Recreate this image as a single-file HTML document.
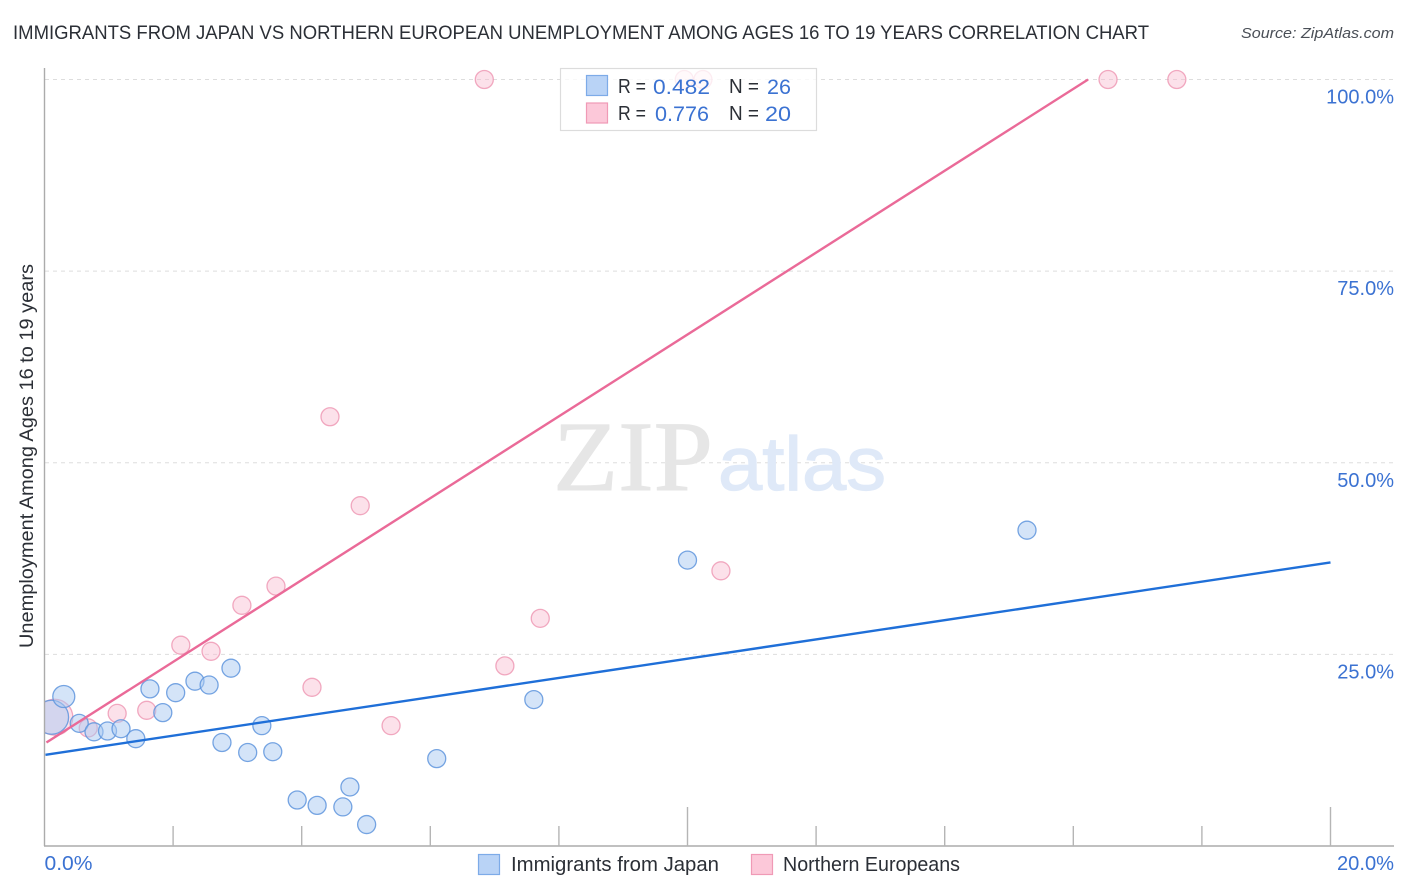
<!DOCTYPE html>
<html lang="en">
<head>
<meta charset="utf-8">
<title>Immigrants from Japan vs Northern European Unemployment Correlation Chart</title>
<style>
html,body{margin:0;padding:0;background:#fff;width:1406px;height:892px;overflow:hidden}
svg{display:block;font-family:"Liberation Sans",sans-serif}
</style>
</head>
<body>
<svg id="chart" width="1406" height="892" viewBox="0 0 1406 892" xmlns="http://www.w3.org/2000/svg">
  <defs>
    <clipPath id="plot-clip"><rect x="45" y="60" width="1349" height="786"/></clipPath>
  </defs>
  <text x="13" y="39" font-size="19.5" fill="#2b2f36" textLength="1136" lengthAdjust="spacingAndGlyphs">IMMIGRANTS FROM JAPAN VS NORTHERN EUROPEAN UNEMPLOYMENT AMONG AGES 16 TO 19 YEARS CORRELATION CHART</text>
  <text x="1394" y="38" font-size="15" font-style="italic" fill="#4a4f57" text-anchor="end" textLength="153" lengthAdjust="spacingAndGlyphs">Source: ZipAtlas.com</text>
  <g id="grid"></g>
  <g>
    <text x="553" y="490" font-family="'Liberation Serif',serif" font-size="100" fill="#e6e6e6" stroke="#e6e6e6" stroke-width="1" textLength="160" lengthAdjust="spacingAndGlyphs">ZIP</text>
    <text x="718" y="490" font-size="76" fill="#dfe9f8" stroke="#dfe9f8" stroke-width="1.2" textLength="168" lengthAdjust="spacingAndGlyphs">atlas</text>
  </g>
  <g id="marks" clip-path="url(#plot-clip)"></g>
  <g id="axes"></g>
  <text transform="translate(33,456) rotate(-90)" font-size="19" fill="#2b2f36" text-anchor="middle" textLength="384" lengthAdjust="spacingAndGlyphs">Unemployment Among Ages 16 to 19 years</text>
  <g>
    <rect x="560.5" y="68.5" width="256" height="62" fill="#fff" fill-opacity="0.78" stroke="#dcdcdc" stroke-width="1.2"/>
    <rect x="586.5" y="75.5" width="21" height="20" fill="#b9d3f6" stroke="#7dabe8" stroke-width="1.2"/>
    <rect x="586.5" y="103" width="21" height="20" fill="#fcc8d9" stroke="#f09ab6" stroke-width="1.2"/>
    <g font-size="20">
      <text x="618" y="93" fill="#2b2f36" textLength="28" lengthAdjust="spacingAndGlyphs">R =</text>
      <text x="653" y="94" fill="#3b72d2" font-size="21" textLength="57" lengthAdjust="spacingAndGlyphs">0.482</text>
      <text x="729" y="93" fill="#2b2f36" textLength="30" lengthAdjust="spacingAndGlyphs">N =</text>
      <text x="767" y="94" fill="#3b72d2" font-size="21" textLength="24" lengthAdjust="spacingAndGlyphs">26</text>
      <text x="618" y="120" fill="#2b2f36" textLength="28" lengthAdjust="spacingAndGlyphs">R =</text>
      <text x="655" y="121" fill="#3b72d2" font-size="21" textLength="54" lengthAdjust="spacingAndGlyphs">0.776</text>
      <text x="729" y="120" fill="#2b2f36" textLength="30" lengthAdjust="spacingAndGlyphs">N =</text>
      <text x="765" y="121" fill="#3b72d2" font-size="21" textLength="26" lengthAdjust="spacingAndGlyphs">20</text>
    </g>
  </g>
  <g>
    <rect x="478.5" y="854.5" width="21" height="20" fill="#b9d3f6" stroke="#7dabe8" stroke-width="1.2"/>
    <text x="511" y="871" font-size="20" fill="#2b2f36" textLength="208" lengthAdjust="spacingAndGlyphs">Immigrants from Japan</text>
    <rect x="751.5" y="854.5" width="21" height="20" fill="#fcc8d9" stroke="#f09ab6" stroke-width="1.2"/>
    <text x="783" y="871" font-size="20" fill="#2b2f36" textLength="177" lengthAdjust="spacingAndGlyphs">Northern Europeans</text>
  </g>
</svg>
<script>
// Data values (x: percent of immigrants, y: unemployment percent)
const japanX = [0.11, 0.30, 0.54, 0.77, 0.98, 1.19, 1.42, 1.64, 1.84, 2.04, 2.34, 2.56, 2.90, 2.76, 3.16, 3.55, 3.38, 3.93, 4.24, 4.64, 4.75, 5.01, 6.10, 7.61, 10.0, 15.28];
const japanY = [16.8, 19.5, 16.0, 14.9, 15.0, 15.3, 14.0, 20.5, 17.4, 20.0, 21.5, 21.0, 23.2, 13.5, 12.2, 12.3, 15.7, 6.0, 5.3, 5.1, 7.7, 2.8, 11.4, 19.1, 37.3, 41.2];
const japanSize = [17, 11, 9, 9, 9, 9, 9, 9, 9, 9, 9, 9, 9, 9, 9, 9, 9, 9, 9, 9, 9, 9, 9, 9, 9, 9];
const northernX = [0.16, 0.68, 1.13, 1.59, 2.12, 2.59, 3.07, 3.60, 4.16, 4.44, 4.91, 5.39, 6.84, 7.16, 7.71, 10.52, 9.95, 10.24, 16.54, 17.61];
const northernY = [16.8, 15.4, 17.3, 17.7, 26.2, 25.4, 31.4, 33.9, 20.7, 56.0, 44.4, 15.7, 100, 23.5, 29.7, 35.9, 100, 100, 100, 100];
const northernSize = [18, 9, 9, 9, 9, 9, 9, 9, 9, 9, 9, 9, 9, 9, 9, 9, 9, 9, 9, 9];
const japanTrendX = [0.0, 20.0];
const japanTrendY = [11.9, 37.0];
const northernTrendX = [0.03, 16.23];
const northernTrendY = [13.5, 100];
const xTickValues = [0, 2, 4, 6, 8, 10, 12, 14, 16, 18, 20];
const xMajorTicks = [0, 10, 20];
const xEndLabels = ["0.0%", "20.0%"];
const yTickValues = [25, 50, 75, 100];
const yTickLabels = ["25.0%", "50.0%", "75.0%", "100.0%"];

const svgNS = "http://www.w3.org/2000/svg";
function xScale(v) { return 44.5 + v * 64.3; }
function yScale(v) { return 846 - v * 7.665; }
function make(tag, attrs, parent) {
  const el = document.createElementNS(svgNS, tag);
  for (const k in attrs) el.setAttribute(k, attrs[k]);
  parent.appendChild(el);
  return el;
}
const grid = document.getElementById("grid");
const axes = document.getElementById("axes");
const marks = document.getElementById("marks");

yTickValues.forEach(function (v, i) {
  const line = make("line", {x1: 45, x2: 1394, y1: yScale(v), y2: yScale(v), stroke: "#dddddd", "stroke-width": 1, "stroke-dasharray": "4 4"}, grid);
  
  
  const label = make("text", {x: 1394, y: yScale(v) + 24, "text-anchor": "end", "font-size": 20, fill: "#3b72d2"}, axes);
  
  
  label.textContent = yTickLabels[i];
});

const yAxis = make("line", {x1: 44.5, x2: 44.5, y1: 68, y2: 846, stroke: "#ababab", "stroke-width": 1.4}, axes);


const xAxis = make("line", {x1: 44, x2: 1394, y1: 846, y2: 846, stroke: "#ababab", "stroke-width": 1.4}, axes);



xTickValues.forEach(function (v) {
  if (v === 0) return;
  const top = xMajorTicks.indexOf(v) >= 0 ? 807 : 826;
  const tick = make("line", {x1: xScale(v), x2: xScale(v), y1: top, y2: 846, stroke: "#b5b5b5", "stroke-width": 1.4}, axes);
  
  
});

const xLabelLeft = make("text", {x: xScale(0), y: 870, "font-size": 20, fill: "#3b72d2", textLength: 48, lengthAdjust: "spacingAndGlyphs"}, axes);


xLabelLeft.textContent = xEndLabels[0];
const xLabelRight = make("text", {x: 1337, y: 870, "font-size": 20, fill: "#3b72d2", textLength: 57, lengthAdjust: "spacingAndGlyphs"}, axes);


xLabelRight.textContent = xEndLabels[1];

northernX.forEach(function (v, i) {
  const c = make("circle", {cx: xScale(v), cy: yScale(northernY[i]), r: northernSize[i], fill: "#f8bdd0", "fill-opacity": 0.45, stroke: "#ee95b2", "stroke-opacity": 0.8, "stroke-width": 1.3}, marks);
  
  
});
japanX.forEach(function (v, i) {
  const c = make("circle", {cx: xScale(v), cy: yScale(japanY[i]), r: japanSize[i], fill: "#a9c9f2", "fill-opacity": 0.5, stroke: "#5f95dd", "stroke-opacity": 0.85, "stroke-width": 1.3}, marks);
  
  
});

const japanTrend = make("line", {x1: xScale(japanTrendX[0]) + 1, x2: xScale(japanTrendX[1]), y1: yScale(japanTrendY[0]), y2: yScale(japanTrendY[1]), stroke: "#1f6fd8", "stroke-width": 2.4}, marks);


const northernTrend = make("line", {x1: xScale(northernTrendX[0]), x2: xScale(northernTrendX[1]), y1: yScale(northernTrendY[0]), y2: yScale(northernTrendY[1]), stroke: "#ea6a98", "stroke-width": 2.4}, marks);


</script>
</body>
</html>
